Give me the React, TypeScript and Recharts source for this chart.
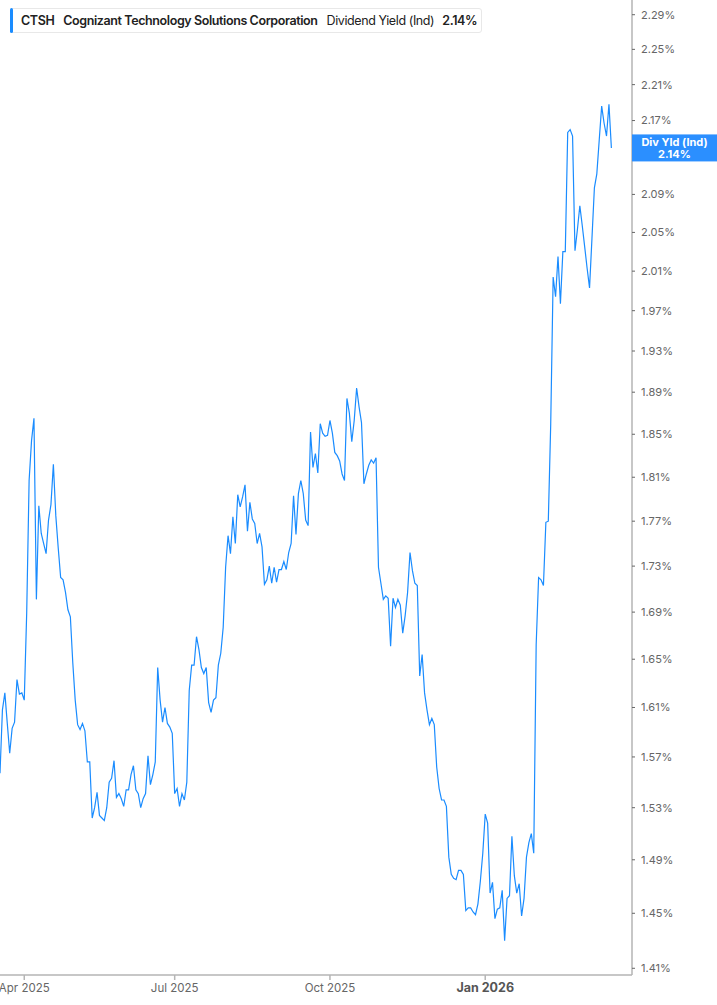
import { LineChart, Line, XAxis, YAxis, ReferenceLine, Label } from 'recharts';

// CTSH indicated dividend yield (%), one value per trading day, mid-Mar 2025 to mid-Mar 2026
const divYield: number[] = [
  1.557, 1.608, 1.622, 1.597, 1.573, 1.593, 1.598, 1.633, 1.621, 1.622,
  1.616, 1.689, 1.807, 1.844, 1.865, 1.701, 1.784, 1.759, 1.75, 1.741,
  1.771, 1.785, 1.822, 1.775, 1.746, 1.72, 1.718, 1.707, 1.692, 1.686,
  1.647, 1.616, 1.596, 1.592, 1.597, 1.591, 1.566, 1.566, 1.522, 1.53,
  1.542, 1.524, 1.522, 1.52, 1.53, 1.55, 1.553, 1.567, 1.538, 1.541,
  1.537, 1.531, 1.544, 1.544, 1.556, 1.563, 1.544, 1.541, 1.53, 1.537,
  1.541, 1.571, 1.548, 1.556, 1.566, 1.643, 1.616, 1.598, 1.61, 1.597,
  1.594, 1.589, 1.541, 1.545, 1.531, 1.541, 1.536, 1.55, 1.624, 1.645,
  1.645, 1.669, 1.658, 1.643, 1.638, 1.643, 1.614, 1.606, 1.616, 1.618,
  1.645, 1.655, 1.677, 1.729, 1.757, 1.741, 1.774, 1.75, 1.794, 1.783,
  1.792, 1.803, 1.761, 1.787, 1.772, 1.768, 1.75, 1.759, 1.747, 1.714,
  1.718, 1.73, 1.715, 1.729, 1.716, 1.727, 1.727, 1.734, 1.727, 1.742,
  1.75, 1.793, 1.758, 1.795, 1.807, 1.795, 1.771, 1.766, 1.852, 1.819,
  1.832, 1.814, 1.86, 1.851, 1.848, 1.849, 1.863, 1.851, 1.833, 1.83,
  1.825, 1.813, 1.807, 1.884, 1.87, 1.843, 1.863, 1.894, 1.876, 1.861,
  1.804, 1.813, 1.821, 1.826, 1.823, 1.828, 1.729, 1.715, 1.701, 1.704,
  1.702, 1.661, 1.702, 1.694, 1.701, 1.696, 1.672, 1.687, 1.707, 1.742,
  1.726, 1.715, 1.713, 1.636, 1.654, 1.622, 1.608, 1.596, 1.601, 1.596,
  1.562, 1.545, 1.536, 1.536, 1.531, 1.492, 1.479, 1.476, 1.475, 1.482,
  1.482, 1.479, 1.452, 1.454, 1.454, 1.451, 1.449, 1.457, 1.474, 1.495,
  1.525, 1.518, 1.465, 1.473, 1.446, 1.453, 1.454, 1.467, 1.43, 1.461,
  1.463, 1.508, 1.478, 1.465, 1.472, 1.448, 1.461, 1.492, 1.503, 1.51,
  1.495, 1.662, 1.72, 1.718, 1.713, 1.769, 1.77, 1.86, 2.004, 1.984,
  2.025, 1.977, 2.03, 2.03, 2.157, 2.16, 2.153, 2.031, 2.053, 2.078,
  2.057, 2.035, 2.013, 1.993, 2.044, 2.097, 2.112, 2.149, 2.186, 2.167,
  2.153, 2.188, 2.14,
];

// trading-day index of the first session of each labelled month
const monthTickIndex = [10, 72, 136, 200];
const monthTickLabels = ['Apr 2025', 'Jul 2025', 'Oct 2025', 'Jan 2026'];

const yTicks = [
  1.41, 1.45, 1.49, 1.53, 1.57, 1.61, 1.65, 1.69, 1.73, 1.77, 1.81, 1.85,
  1.89, 1.93, 1.97, 2.01, 2.05, 2.09, 2.13, 2.17, 2.21, 2.25, 2.29,
];

const lastYield = 2.14;

const data = divYield.map((v, i) => ({ i, v }));

const BLUE = '#1a8cff';
const AXIS = '#b5b5b5';

const MonthTick = ({ x, y, payload }: any) => {
  const label = monthTickLabels[monthTickIndex.indexOf(payload.value)];
  const isYear = label.startsWith('Jan');
  return (
    <text
      x={x}
      y={y}
      dy={10}
      textAnchor="middle"
      fontSize={isYear ? 12.5 : 11.5}
      fontWeight={isYear ? 700 : 400}
      fill={isYear ? '#555' : '#666'}
    >
      {label}
    </text>
  );
};

const YieldTag = (props: any) => {
  const vb = props.viewBox;
  const left = vb.x + vb.width;
  const cx = left + 42.5;
  return (
    <g>
      <rect x={left} y={vb.y - 13.5} width={85} height={27} fill="#2b8fff" />
      <text x={cx} y={vb.y - 2} textAnchor="middle" fill="#fff" fontSize={11} fontWeight={700}>
        Div Yld (Ind)
      </text>
      <text x={cx} y={vb.y + 10} textAnchor="middle" fill="#fff" fontSize={11} fontWeight={700}>
        {lastYield.toFixed(2)}%
      </text>
    </g>
  );
};

const App = () => {
  return (
    <div
      style={{
        position: 'absolute',
        left: 0,
        top: 0,
        width: 717,
        height: 1005,
        background: '#fff',
        fontFamily: 'Inter, "Noto Sans", sans-serif',
      }}
    >
      <LineChart width={717} height={1005} data={data} margin={{ top: 0, right: 0, left: 0, bottom: 0 }}>
        <XAxis
          type="number"
          dataKey="i"
          domain={[0, 260.5]}
          allowDataOverflow
          ticks={monthTickIndex}
          tick={<MonthTick />}
          height={30}
          tickSize={5}
          axisLine={{ stroke: AXIS, strokeWidth: 1.5 }}
          tickLine={{ stroke: AXIS, strokeWidth: 1.5 }}
        />
        <YAxis
          orientation="right"
          type="number"
          scale="log"
          domain={[1.4052, 2.3072]}
          allowDataOverflow
          ticks={yTicks}
          interval={0}
          width={85}
          tickSize={3}
          tickMargin={6}
          tickFormatter={(v: number) => `${v.toFixed(2)}%`}
          tick={{ fill: '#666', fontSize: 11 }}
          axisLine={{ stroke: AXIS, strokeWidth: 1.5 }}
          tickLine={{ stroke: '#666' }}
        />
        <Line
          type="linear"
          dataKey="v"
          stroke={BLUE}
          strokeWidth={1.2}
          dot={false}
          activeDot={false}
          isAnimationActive={false}
        />
        <ReferenceLine y={lastYield} stroke="none" zIndex={3000}>
          <Label content={YieldTag} zIndex={3000} />
        </ReferenceLine>
      </LineChart>
      <div
        style={{
          position: 'absolute',
          left: 10,
          top: 8,
          width: 472,
          height: 25,
          boxSizing: 'border-box',
          border: '1px solid #e8e8e8',
          borderRadius: 3,
          background: '#fff',
          display: 'flex',
          alignItems: 'center',
          fontSize: 12.5,
          color: '#222',
          letterSpacing: -0.4,
          whiteSpace: 'nowrap',
        }}
      >
        <div style={{ width: 3, height: 25, background: BLUE, borderRadius: 2, marginLeft: -1 }} />
        <span style={{ fontWeight: 600, marginLeft: 8 }}>CTSH</span>
        <span style={{ fontWeight: 600, marginLeft: 9 }}>Cognizant Technology Solutions Corporation</span>
        <span style={{ fontWeight: 400, marginLeft: 9 }}>Dividend Yield (Ind)</span>
        <span style={{ fontWeight: 600, marginLeft: 8 }}>2.14%</span>
      </div>
    </div>
  );
};

export default App;
